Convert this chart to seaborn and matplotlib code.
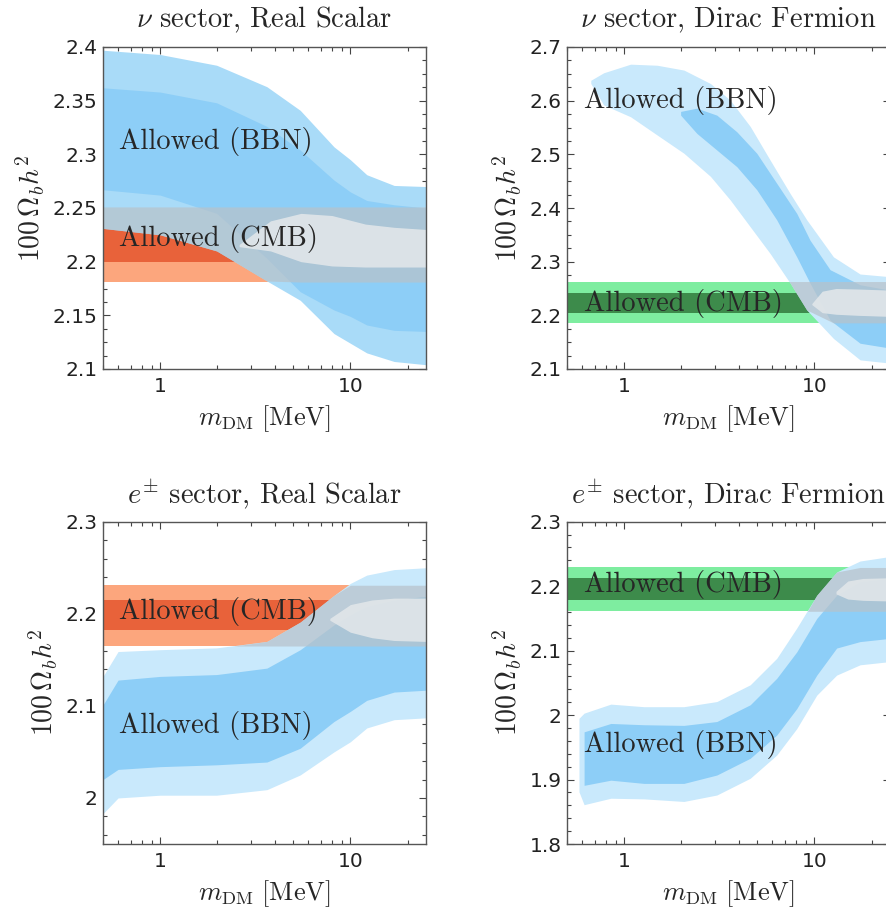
import numpy as np
import matplotlib
matplotlib.use("Agg")
import matplotlib.pyplot as plt
from matplotlib.ticker import MultipleLocator, FixedLocator, LogLocator, NullFormatter, FuncFormatter
import seaborn as sns

sns.set_theme(style="ticks")
plt.rcParams["mathtext.fontset"] = "cm"
plt.rcParams["axes.unicode_minus"] = False
plt.rcParams["font.family"] = ["DejaVu Sans"]

# ---------------- data ----------------
# nu sector, Real Scalar
nu_rs_x = [0.5, 1.0, 1.98, 3.64, 5.45, 8.2, 10, 12.2, 17, 25]
nu_rs_out_hi = [2.397, 2.393, 2.383, 2.363, 2.341, 2.307, 2.295, 2.281, 2.271, 2.270]
nu_rs_out_lo = [2.231, 2.225, 2.210, 2.182, 2.164, 2.133, 2.124, 2.115, 2.107, 2.104]
nu_rs_in_x = nu_rs_x
nu_rs_in_hi = [2.362, 2.358, 2.348, 2.326, 2.304, 2.276, 2.265, 2.257, 2.253, 2.250]
nu_rs_in_lo = [2.267, 2.262, 2.245, 2.203, 2.172, 2.155, 2.149, 2.141, 2.136, 2.135]
nu_rs_cmb_out = [2.181, 2.251]
nu_rs_cmb_in = [2.200, 2.231]
nu_rs_joint_x = [2.6, 3.8, 5.5, 8, 12, 17, 25]
nu_rs_joint_hi = [2.216, 2.238, 2.245, 2.243, 2.235, 2.232, 2.230]
nu_rs_joint_lo = [2.214, 2.210, 2.200, 2.196, 2.195, 2.195, 2.195]

# nu sector, Dirac Fermion
nu_df_x = [0.667, 0.78, 1.08, 1.49, 2.06, 2.84, 3.61, 4.6, 5.86, 7.46, 9.12, 12.6, 17.4, 25]
nu_df_out_hi = [2.638, 2.652, 2.668, 2.666, 2.657, 2.632, 2.601, 2.552, 2.489, 2.427, 2.378, 2.309, 2.277, 2.272]
nu_df_out_lo = [2.632, 2.592, 2.570, 2.536, 2.502, 2.459, 2.415, 2.365, 2.315, 2.260, 2.210, 2.157, 2.117, 2.111]
nu_df_in_x = [1.98, 2.41, 3.07, 3.91, 4.98, 6.34, 8.08, 9.49, 12.1, 17.4, 25]
nu_df_in_hi = [2.580, 2.586, 2.573, 2.542, 2.502, 2.446, 2.390, 2.340, 2.285, 2.257, 2.247]
nu_df_in_lo = [2.573, 2.539, 2.508, 2.477, 2.434, 2.378, 2.309, 2.260, 2.191, 2.148, 2.139]
nu_df_cmb_out = [2.186, 2.263]
nu_df_cmb_in = [2.204, 2.241]
nu_df_joint_x = [9.7, 11, 13, 17, 25]
nu_df_joint_hi = [2.222, 2.245, 2.250, 2.249, 2.247]
nu_df_joint_lo = [2.220, 2.205, 2.202, 2.200, 2.198]

# e sector, Real Scalar
e_rs_x = [0.5, 0.6, 1.0, 1.98, 3.64, 5.45, 8.2, 10, 12.2, 17, 25]
e_rs_out_hi = [2.132, 2.159, 2.161, 2.163, 2.170, 2.191, 2.220, 2.233, 2.242, 2.248, 2.250]
e_rs_out_lo = [1.983, 2.000, 2.003, 2.003, 2.009, 2.025, 2.050, 2.061, 2.076, 2.085, 2.087]
e_rs_in_x = e_rs_x
e_rs_in_hi = [2.101, 2.128, 2.132, 2.134, 2.141, 2.161, 2.188, 2.199, 2.208, 2.215, 2.219]
e_rs_in_lo = [2.020, 2.031, 2.034, 2.036, 2.039, 2.054, 2.083, 2.094, 2.106, 2.115, 2.117]
e_rs_cmb_out = [2.165, 2.231]
e_rs_cmb_in = [2.182, 2.215]
e_rs_joint_x = [7.8, 10, 13, 17, 25]
e_rs_joint_hi = [2.195, 2.210, 2.215, 2.217, 2.217]
e_rs_joint_lo = [2.193, 2.180, 2.174, 2.171, 2.170]

# e sector, Dirac Fermion
e_df_x = [0.578, 0.615, 0.85, 1.27, 2.06, 3.07, 4.6, 6.34, 8.08, 10.3, 13.1, 17.4, 25]
e_df_out_hi = [1.995, 2.003, 2.017, 2.013, 2.013, 2.021, 2.047, 2.088, 2.135, 2.186, 2.222, 2.239, 2.246]
e_df_out_lo = [1.881, 1.861, 1.871, 1.870, 1.866, 1.876, 1.902, 1.938, 1.979, 2.031, 2.062, 2.078, 2.083]
e_df_in_x = [0.615, 0.85, 1.27, 2.06, 3.07, 4.6, 6.34, 8.08, 10.3, 13.1, 17.4, 25]
e_df_in_hi = [1.974, 1.987, 1.985, 1.984, 1.990, 2.016, 2.057, 2.098, 2.150, 2.186, 2.207, 2.212]
e_df_in_lo = [1.891, 1.899, 1.894, 1.894, 1.907, 1.933, 1.969, 2.010, 2.062, 2.104, 2.114, 2.119]
e_df_cmb_out = [2.161, 2.229]
e_df_cmb_in = [2.178, 2.213]
e_df_joint_x = [13, 15, 18, 25]
e_df_joint_hi = [2.192, 2.208, 2.212, 2.213]
e_df_joint_lo = [2.188, 2.180, 2.178, 2.177]

titles = [r"$\nu$ sector, Real Scalar", r"$\nu$ sector, Dirac Fermion",
          r"$e^{\pm}$ sector, Real Scalar", r"$e^{\pm}$ sector, Dirac Fermion"]
ylims = [(2.1, 2.4), (2.1, 2.7), (1.95, 2.3), (1.8, 2.3)]
y_major = [0.05, 0.1, 0.1, 0.1]
y_minor = [0.0125, 0.025, 0.02, 0.02]
x_range = [0.5, 25]
x_ticks = [1, 10]
x_ticklabels = ["1", "10"]
bbn_text_pos = [(0.606, 2.312), (0.615, 2.601), (0.606, 2.079), (0.615, 1.954)]
cmb_text_pos = [(0.606, 2.222), (0.615, 2.222), (0.606, 2.202), (0.615, 2.202)]

# ---------------- styling ----------------
ORANGE_OUT, ORANGE_IN = "#fca67d", "#e8623a"
GREEN_OUT, GREEN_IN = "#7eeda0", "#3d8b4b"
blue_out = ["#a9dbf8", "#c9e9fc", "#c9e9fc", "#c9e9fc"]
blue_in = "#8dcef7"
GRAY_OUT = "#b8c2ca"
GRAY_IN = "#e2e7ea"

panels = [
    (nu_rs_x, nu_rs_out_lo, nu_rs_out_hi, nu_rs_in_x, nu_rs_in_lo, nu_rs_in_hi,
     nu_rs_cmb_out, nu_rs_cmb_in, nu_rs_joint_x, nu_rs_joint_lo, nu_rs_joint_hi, ORANGE_OUT, ORANGE_IN),
    (nu_df_x, nu_df_out_lo, nu_df_out_hi, nu_df_in_x, nu_df_in_lo, nu_df_in_hi,
     nu_df_cmb_out, nu_df_cmb_in, nu_df_joint_x, nu_df_joint_lo, nu_df_joint_hi, GREEN_OUT, GREEN_IN),
    (e_rs_x, e_rs_out_lo, e_rs_out_hi, e_rs_in_x, e_rs_in_lo, e_rs_in_hi,
     e_rs_cmb_out, e_rs_cmb_in, e_rs_joint_x, e_rs_joint_lo, e_rs_joint_hi, ORANGE_OUT, ORANGE_IN),
    (e_df_x, e_df_out_lo, e_df_out_hi, e_df_in_x, e_df_in_lo, e_df_in_hi,
     e_df_cmb_out, e_df_cmb_in, e_df_joint_x, e_df_joint_lo, e_df_joint_hi, GREEN_OUT, GREEN_IN),
]

W, H = 887, 909
fig = plt.figure(figsize=(W / 100, H / 100), dpi=100)
boxes = [(103, 47, 426, 369), (567, 47, 890, 369), (103, 521.7, 426, 844), (567, 521.7, 890, 844)]
title_pads = [14.5, 14.5, 12.5, 12.5]

SERIF = "cmr10"
for i, (box, p) in enumerate(zip(boxes, panels)):
    x0, y0, x1, y1 = box
    ax = fig.add_axes([x0 / W, 1 - y1 / H, (x1 - x0) / W, (y1 - y0) / H])
    (bx, blo, bhi, ix, ilo, ihi, cout, cin, jx, jlo, jhi, c_out, c_in) = p
    xr = np.array(x_range)
    # CMB bands
    ax.fill_between(xr, cout[0], cout[1], color=c_out, lw=0, zorder=1)
    ax.fill_between(xr, cin[0], cin[1], color=c_in, lw=0, zorder=1.1)
    # BBN bands
    ax.fill_between(bx, blo, bhi, color=blue_out[i], lw=0, zorder=2)
    ax.fill_between(ix, ilo, ihi, color=blue_in, lw=0, zorder=2.1)
    # joint region: overlap of the two 2-sigma regions
    bx_a = np.array(bx); lo_a = np.maximum(np.array(blo), cout[0]); hi_a = np.minimum(np.array(bhi), cout[1])
    ax.fill_between(bx_a, lo_a, hi_a, where=hi_a > lo_a, interpolate=True,
                    color=GRAY_OUT, alpha=0.72, lw=0, zorder=3)
    ax.fill_between(jx, jlo, jhi, color=GRAY_IN, alpha=0.88, lw=0, zorder=3.1)

    ax.set_xscale("log")
    ax.set_xlim(*x_range)
    ax.set_ylim(*ylims[i])
    ax.xaxis.set_major_locator(FixedLocator(x_ticks))
    ax.set_xticklabels(x_ticklabels)
    ax.xaxis.set_minor_locator(LogLocator(base=10, subs=np.arange(2, 10)))
    ax.xaxis.set_minor_formatter(NullFormatter())
    ax.yaxis.set_major_locator(MultipleLocator(y_major[i]))
    ax.yaxis.set_minor_locator(MultipleLocator(y_minor[i]))
    ax.yaxis.set_major_formatter(FuncFormatter(lambda v, pos: f"{round(v, 3):g}"))
    ax.tick_params(which="both", direction="in", top=True, right=True, colors="#444444",
                   labelcolor="#222222", labelsize=14.5, width=0.8)
    ax.tick_params(which="major", length=5, pad=4)
    ax.tick_params(axis="x", which="major", pad=6)
    ax.tick_params(which="minor", length=2.8)
    for s in ax.spines.values():
        s.set_color("#555555")
        s.set_linewidth(1.0)
        s.set_zorder(5)
    ax.set_title(titles[i], family=SERIF, fontsize=20.5, pad=title_pads[i])
    ax.set_ylabel(r"$100\,\Omega_b h^2$", fontsize=20, labelpad=4)
    ax.set_xlabel(r"$m_{\mathrm{DM}}\ [\mathrm{MeV}]$", fontsize=19, labelpad=5)
    ax.text(*bbn_text_pos[i], "Allowed (BBN)", family=SERIF, fontsize=20.5, va="center", ha="left", zorder=6)
    ax.text(*cmb_text_pos[i], "Allowed (CMB)", family=SERIF, fontsize=20.5, va="center", ha="left", zorder=6)

fig.savefig("out.png", dpi=100)
